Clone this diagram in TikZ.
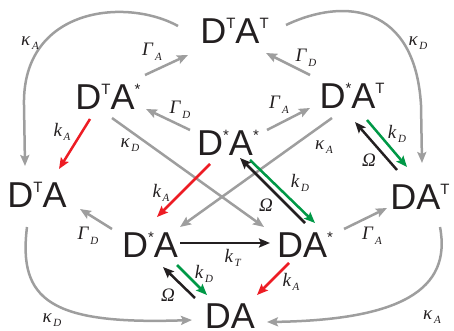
\documentclass[tikz,border=0pt]{standalone}
\usepackage{fontspec}
\setmainfont{Liberation Serif}
\newfontfamily\mainf{Liberation Sans}
\usetikzlibrary{arrows.meta,calc}
\definecolor{gr}{RGB}{158,158,158}
\definecolor{rd}{RGB}{237,28,36}
\definecolor{gn}{RGB}{0,152,70}
\definecolor{txt}{RGB}{35,31,32}
\newcommand\sps[1]{\raisebox{15pt}{\fontsize{15}{15}\selectfont #1}}
\newcommand\lb[2]{\textit{#1}\kern1.5pt\raisebox{-4.5pt}{\fontsize{11}{11}\selectfont\textit{#2}}}
\tikzset{
  st8/.style={font=\mainf\fontsize{36}{36}\selectfont, inner sep=0pt, text height=25.8pt, text depth=0pt, text=txt},
  lab/.style={font=\fontsize{19}{19}\selectfont, inner sep=0pt, text=txt},
  arr/.style={line width=2.5pt, -{Stealth[length=11pt,width=9pt,inset=2pt]}},
  ga/.style={arr, draw=gr},
  ra/.style={arr, draw=rd},
  gna/.style={arr, draw=gn},
  ba/.style={arr, draw=txt}
}
\begin{document}
\begin{tikzpicture}[x=1pt,y=-1pt]
\useasboundingbox (0,0) rectangle (454,331);
% states
\node[st8] (tt) at (234.5,31) {D\sps{T}A\sps{T}};
\node[st8] (ts) at (108,96.5) {D\sps{T}A\sps{*}};
\node[st8] (st) at (352,96) {D\sps{*}A\sps{T}};
\node[st8] (ss) at (228,142.5) {D\sps{*}A\sps{*}};
\node[st8] (ta) at (37,195) {D\sps{T}A};
\node[st8] (at) at (420,197) {DA\sps{T}};
\node[st8] (sa) at (150,245) {D\sps{*}A};
\node[st8] (as) at (305,245) {DA\sps{*}};
\node[st8] (da) at (230,315.5) {DA};
% outer gray curves
\draw[ga] ($(tt)+(-56.5,-5)$) .. controls (125,-3) and (22,8) .. (24,105) -- ($(ta)+(-12,-29)$);
\draw[ga] ($(tt)+(51.5,-6)$) .. controls (345,-3) and (415,5) .. (421,105) -- ($(at)+(2,-34)$);
\draw[ga] ($(ta)+(-10,32)$) .. controls (18,300) and (50,325) .. ($(da)+(-38,4.5)$);
\draw[ga] ($(at)+(20,30)$) .. controls (452,290) and (400,320) .. ($(da)+(37,6.5)$);
% gray straight
\draw[ga] ($(ts)+(37,-21.5)$) -- ($(tt)+(-46.5,24)$);
\draw[ga] ($(ss)+(-38,-12.5)$) -- ($(ts)+(38,12.5)$);
\draw[ga] ($(st)+(-42,-21)$) -- ($(tt)+(31.5,22)$);
\draw[ga] ($(ss)+(39,-12.5)$) -- ($(st)+(-42,12)$);
\draw[ga] ($(sa)+(-38,-16)$) -- ($(ta)+(43,14)$);
\draw[ga] ($(as)+(39,-16)$) -- ($(at)+(-33,11)$);
\draw[ga] ($(ts)+(4,21.5)$) -- ($(as)+(-41,-18)$);
\draw[ga] ($(st)+(-20,22)$) -- ($(sa)+(30,-18)$);
% red
\draw[ra] ($(ts)+(-18,22.5)$) -- ($(ta)+(22,-26)$);
\draw[ra] ($(ss)+(-18,21.5)$) -- ($(sa)+(7,-28)$);
\draw[ra] ($(as)+(-16,18)$) -- ($(da)+(27,-20.5)$);
% green / black pairs
\draw[gna] ($(st)+(15,24)$) -- ($(at)+(-13,-30)$);
\draw[ba] ($(at)+(-23,-27)$) -- ($(st)+(3,26)$);
\draw[gna] ($(ss)+(22,17.5)$) -- ($(as)+(10,-22)$);
\draw[ba] ($(as)+(0,-22)$) -- ($(ss)+(12,15.5)$);
\draw[gna] ($(sa)+(27,20)$) -- ($(da)+(-23,-20.5)$);
\draw[ba] ($(da)+(-35,-17.5)$) -- ($(sa)+(13,22)$);
% k_T
\draw[ba] ($(sa)+(30,-2)$) -- ($(as)+(-35,-2)$);
% labels
\node[lab] (l1) at (30,43) {\lb{κ}{A}};
\node[lab] (l2) at (418,43) {\lb{κ}{D}};
\node[lab] (l3) at (52,320) {\lb{κ}{D}};
\node[lab] (l4) at (432,317) {\lb{κ}{A}};
\node[lab] (l5) at (152,52) {\lb{Γ}{A}};
\node[lab] (l6) at (180,110) {\lb{Γ}{D}};
\node[lab] (l7) at (306,58) {\lb{Γ}{D}};
\node[lab] (l8) at (279,105) {\lb{Γ}{A}};
\node[lab] (l9) at (88,236) {\lb{Γ}{D}};
\node[lab] (l10) at (372,236) {\lb{Γ}{A}};
\node[lab] (l11) at (130,145) {\lb{κ}{D}};
\node[lab] (l12) at (324,147) {\lb{κ}{A}};
\node[lab] (l13) at (62,132) {\lb{k}{A}};
\node[lab] (l14) at (161,193) {\lb{k}{A}};
\node[lab] (l15) at (291,282) {\lb{k}{A}};
\node[lab] (l16) at (397,134) {\lb{k}{D}};
\node[lab] (l17) at (369,160) {\textit{Ω}};
\node[lab] (l18) at (300,183) {\lb{k}{D}};
\node[lab] (l19) at (266,205) {\textit{Ω}};
\node[lab] (l20) at (204,274) {\lb{k}{D}};
\node[lab] (l21) at (168,295) {\textit{Ω}};
\node[lab] (l22) at (233,258) {\lb{k}{T}};
\end{tikzpicture}
\end{document}
